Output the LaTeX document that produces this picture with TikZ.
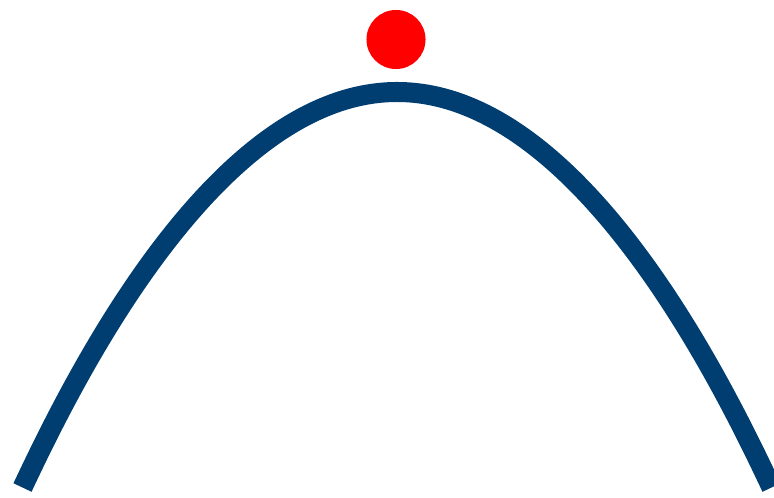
\documentclass[tikz,border=0pt]{standalone}
\usepackage{tikz}
\definecolor{hillBlue}{RGB}{0, 62, 114}
\definecolor{ballRed}{RGB}{255, 0, 0}

\begin{document}
\begin{tikzpicture}[
  x=0.01cm,
  y=-0.01cm,
  hill/.style={
    draw=hillBlue,
    line width=0.2cm
  },
  ball/.style={
    circle,
    fill=ballRed,
    inner sep=0pt,
    minimum size=0.59cm
  }
]
  \useasboundingbox (0,0) rectangle (774,498);
  \coordinate (left) at (22.5,487.5);
  \coordinate (top) at (397,92);
  \coordinate (right) at (771.5,487.5);

  \draw[hill] (left) parabola bend (top) (right);

  \node[ball] (marble) at (396,39.5) {};
\end{tikzpicture}
\end{document}
